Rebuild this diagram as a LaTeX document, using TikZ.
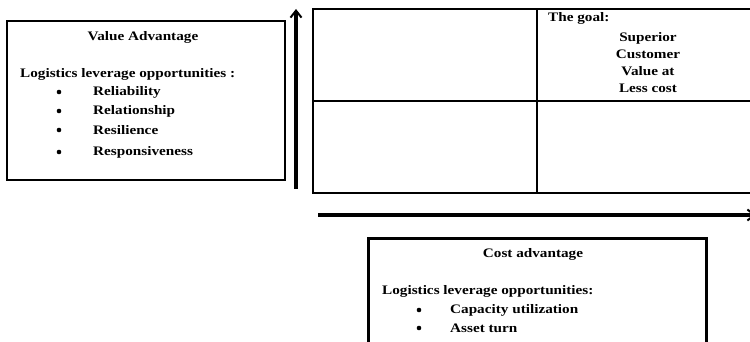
\documentclass[tikz,border=0pt]{standalone}
\usepackage{fontspec}
\setmainfont{Liberation Serif}[FakeStretch=1.17]
\usetikzlibrary{arrows.meta}
\begin{document}
\begin{tikzpicture}[x=1pt,y=-1pt,
  box/.style={draw,line width=2.6pt,inner sep=0pt},
  txt/.style={inner sep=0pt,font=\fontsize{13}{15}\selectfont\bfseries},
  lft/.style={txt,anchor=west},
  dot/.style={circle,fill,inner sep=0pt,minimum size=4.6pt},
  cell/.style={draw,line width=2pt,inner sep=0pt,minimum width=224pt,minimum height=92pt},
  axis/.style={line width=3.2pt,-{Straight Barb[length=7pt,width=11pt,line width=2pt]}}]
\useasboundingbox (0,0) rectangle (750,342);
\clip (0,0) rectangle (750,342);
% left box
\node[box,minimum width=278pt,minimum height=159pt] (vbox) at (146,100.5) {};
\node[txt] (vt) at (143,37) {Value Advantage};
\node[lft] (vl) at (20,74) {Logistics leverage opportunities :};
\foreach \y/\t/\n in {92/Reliability/a,111/Relationship/b,130/Resilience/c,152/Responsiveness/d}{
  \node[dot] (vb\n) at (59,\y) {};
  \node[lft] (vi\n) at (93,\y) {\t};
}
% grid
\node[cell,anchor=north west] (c11) at (312,8) {};
\node[cell,anchor=north west] (c12) at (536,8) {};
\node[cell,anchor=north west] (c21) at (312,100) {};
\node[cell,anchor=north west] (c22) at (536,100) {};
\node[lft] (goal) at (548,18) {The goal:};
\node[txt,align=center,font=\fontsize{13}{17}\selectfont\bfseries,anchor=north] (sup) at (648,32) {Superior\\Customer\\Value at\\Less cost};
% axes
\coordinate (v0) at (296,189);
\coordinate (v1) at (296,9);
\draw[axis] (v0) -- (v1);
\coordinate (h0) at (318,215);
\coordinate (h1) at (756,215);
\draw[axis] (h0) -- (h1);
% bottom box
\node[box,anchor=north west,minimum width=338pt,minimum height=130pt] (cbox) at (367,237) {};
\node[txt] (ct) at (533,254) {Cost advantage};
\node[lft] (cl) at (382,291) {Logistics leverage opportunities:};
\node[dot] (cba) at (419,310) {};
\node[lft] (cia) at (450,310) {Capacity utilization};
\node[dot] (cbb) at (419,328) {};
\node[lft] (cib) at (450,328) {Asset turn};
\end{tikzpicture}
\end{document}
